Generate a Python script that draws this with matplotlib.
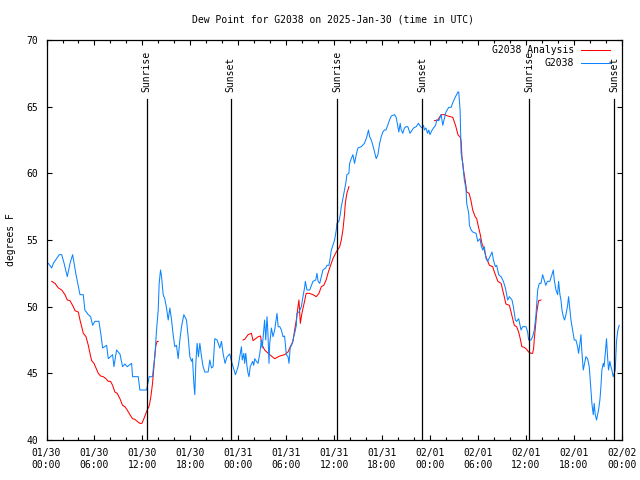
import matplotlib
matplotlib.use("Agg")
import matplotlib.pyplot as plt
import numpy as np

# hours since 2025-01-30 00:00 UTC, dew point in degF
obs_hours = [
    0.23, 0.65, 0.85, 1.6, 1.9, 2.2, 2.6, 2.94, 3.27, 3.69, 4.19, 4.6, 4.8, 5.23,
    5.52, 5.77, 6.06, 6.56, 6.81, 7.02, 7.52, 7.73, 8.27, 8.44, 8.77, 9.19, 9.52,
    9.81, 10.1, 10.65, 10.77, 11.48, 11.69, 12.52, 12.85, 13.27, 13.35, 13.56,
    13.77, 13.98, 14.1, 14.27, 14.4, 14.6, 14.8, 15.02, 15.23, 15.44, 15.65, 15.85,
    16.06, 16.27, 16.48, 16.69, 16.9, 17.19, 17.52, 17.73, 17.94, 18.15, 18.27,
    18.44, 18.56, 18.69, 18.85, 19.02, 19.19, 19.4, 19.6, 19.81, 20.23, 20.44,
    20.65, 20.85, 21.06, 21.35, 21.69, 21.9, 22.1, 22.35, 22.6, 22.94, 23.15,
    23.35, 23.65, 23.98, 24.19, 24.4, 24.5, 24.7, 24.8, 24.94, 25.1, 25.23, 25.35,
    25.5, 25.8, 25.94, 26.06, 26.27, 26.48, 26.7, 26.9, 27.0, 27.2, 27.3, 27.44,
    27.6, 27.7, 27.85, 27.94, 28.15, 28.35, 28.56, 28.85, 29.0, 29.2, 29.4, 29.6,
    29.8, 30.02, 30.23, 30.35, 30.5, 30.77, 30.94, 31.06, 31.27, 31.35, 31.6,
    31.9, 32.1, 32.3, 32.4, 32.6, 32.94, 33.35, 33.7, 33.85, 34.0, 34.2, 34.4,
    34.6, 34.94, 35.1, 35.35, 35.5, 35.65, 35.85, 36.06, 36.27, 36.35, 36.6,
    36.77, 36.9, 37.1, 37.3, 37.5, 37.6, 37.85, 37.94, 38.15, 38.35, 38.56, 38.77,
    38.98, 39.4, 39.8, 40.1, 40.3, 40.44, 40.65, 40.85, 41.06, 41.27, 41.48, 41.7,
    41.9, 42.1, 42.3, 42.5, 42.7, 42.94, 43.15, 43.56, 43.77, 43.98, 44.1, 44.27,
    44.4, 44.6, 44.8, 45.02, 45.23, 45.5, 45.77, 45.94, 46.27, 46.56, 46.77, 47.0,
    47.19, 47.3, 47.5, 47.7, 47.85, 48.0, 48.27, 48.44, 48.7, 48.85, 49.1, 49.4,
    49.6, 49.8, 50.0, 50.35, 50.65, 50.85, 51.2, 51.5, 51.6, 51.77, 51.9, 52.1,
    52.3, 52.5, 52.6, 52.85, 52.94, 53.15, 53.35, 53.77, 53.98, 54.27, 54.4, 54.6,
    54.8, 55.02, 55.23, 55.5, 55.77, 55.94, 56.19, 56.35, 56.6, 56.9, 57.19,
    57.44, 57.6, 57.73, 57.94, 58.27, 58.44, 58.69, 58.85, 59.1, 59.27, 59.4,
    59.6, 60.02, 60.23, 60.35, 60.65, 60.85, 61.06, 61.27, 61.48, 61.69, 61.9,
    62.1, 62.3, 62.5, 62.7, 63.0, 63.27, 63.44, 63.56, 63.77, 63.98, 64.1, 64.27,
    64.4, 64.52, 64.69, 64.85, 65.02, 65.23, 65.35, 65.52, 65.65, 65.85, 66.06,
    66.27, 66.48, 66.6, 66.77, 66.9, 67.0, 67.19, 67.35, 67.52, 67.73, 67.94,
    68.15, 68.27, 68.44, 68.56, 68.69, 68.85, 69.1, 69.27, 69.4, 69.52, 69.69,
    69.8, 70.02, 70.1, 70.23, 70.35, 70.52, 70.65, 70.77, 70.94, 71.06, 71.19,
    71.35, 71.52, 71.69,
]
obs_dewpt = [
    53.25, 52.9, 53.25, 53.9, 53.9, 53.25, 52.25, 53.25, 53.9, 52.4, 50.9, 50.9,
    49.75, 49.4, 49.25, 48.6, 48.9, 48.9, 47.9, 46.9, 47.1, 46.1, 46.4, 45.5,
    46.75, 46.45, 45.5, 45.7, 45.5, 45.75, 44.75, 44.75, 43.75, 43.75, 44.75,
    44.75, 45.25, 46.25, 48.25, 49.75, 51.75, 52.75, 52.25, 50.9, 50.6, 49.9,
    49.0, 49.9, 49.0, 47.9, 47.0, 47.1, 46.1, 47.5, 48.5, 49.4, 49.0, 47.75,
    46.25, 45.9, 46.1, 44.25, 43.4, 45.75, 47.25, 46.25, 47.25, 46.25, 45.5,
    45.1, 45.1, 46.0, 45.4, 45.5, 47.6, 47.5, 46.9, 47.4, 46.5, 45.75, 46.25,
    46.45, 45.9, 45.5, 44.9, 45.5, 46.25, 47.0, 46.0, 46.5, 45.75, 46.5, 45.5,
    45.0, 44.75, 45.5, 45.9, 45.6, 46.1, 45.9, 45.75, 46.5, 47.5, 46.9, 48.25,
    49.0, 47.5, 49.25, 48.25, 45.75, 47.25, 48.4, 47.75, 48.25, 49.5, 48.5, 48.5,
    48.25, 47.75, 47.8, 46.4, 46.25, 45.75, 46.9, 47.25, 47.75, 48.0, 48.6, 49.5,
    49.6, 50.0, 50.75, 51.4, 51.9, 51.25, 51.25, 51.9, 52.0, 52.5, 51.9, 51.75,
    52.25, 52.75, 52.9, 53.1, 53.1, 53.6, 54.25, 54.6, 55.0, 55.75, 56.25, 56.4,
    56.9, 57.5, 58.1, 58.75, 59.4, 59.9, 60.0, 60.75, 61.1, 61.4, 60.75, 61.4,
    61.9, 62.0, 62.25, 62.75, 63.25, 62.75, 62.5, 62.1, 61.6, 61.1, 61.4, 62.25,
    62.75, 63.1, 63.25, 63.25, 63.6, 64.0, 64.3, 64.4, 64.2, 63.5, 63.1, 63.75,
    63.25, 63.0, 63.4, 63.5, 63.5, 63.0, 63.25, 63.4, 63.5, 63.75, 63.55, 63.4,
    63.6, 63.25, 63.4, 63.0, 63.25, 62.9, 63.25, 63.4, 63.6, 64.0, 63.95, 64.4,
    63.6, 64.1, 64.6, 64.95, 64.95, 65.3, 65.75, 66.1, 66.1, 64.75, 61.5, 60.75,
    59.5, 58.9, 57.75, 57.0, 56.1, 55.75, 55.6, 55.5, 54.9, 55.1, 54.6, 54.25,
    54.5, 53.6, 53.4, 53.75, 54.1, 53.5, 53.0, 53.1, 52.4, 52.25, 51.9, 51.4,
    50.9, 50.5, 50.75, 50.5, 50.0, 49.0, 48.9, 49.1, 48.6, 48.25, 48.5, 48.5,
    48.1, 47.5, 47.5, 47.75, 48.25, 49.4, 51.25, 51.75, 51.75, 52.4, 52.0, 51.6,
    51.9, 51.9, 52.4, 52.75, 52.0, 51.25, 50.9, 51.9, 50.9, 50.5, 49.75, 49.25,
    49.0, 49.4, 50.1, 50.75, 49.75, 49.0, 48.25, 47.5, 47.5, 47.0, 46.5, 47.25,
    47.9, 46.75, 45.25, 45.75, 46.25, 46.1, 45.5, 43.75, 42.75, 41.9, 42.75,
    41.9, 41.5, 42.25, 43.0, 44.0, 45.25, 45.75, 45.5, 47.0, 47.6, 46.25, 45.25,
    45.9, 45.5, 45.25, 44.75, 45.0, 45.25, 47.4, 48.25, 48.6,
]

# analysis, three separate runs
ana_hours = [
    [0.65, 1.06, 1.48, 1.9, 2.31, 2.6, 2.94, 3.35, 3.56, 3.98, 4.19, 4.4, 4.6,
     4.94, 5.23, 5.44, 5.65, 5.94, 6.19, 6.48, 6.77, 7.1, 7.44, 7.73, 8.02, 8.27,
     8.56, 8.85, 9.19, 9.52, 9.81, 10.1, 10.44, 10.77, 11.06, 11.35, 11.69, 11.94,
     12.19, 12.44, 12.6, 12.85, 13.06, 13.27, 13.44, 13.56, 13.69, 13.85, 13.98],
    [24.6, 24.8, 25.23, 25.65, 25.85, 26.5, 26.8, 26.9, 27.3, 27.94, 28.56, 29.2,
     29.8, 30.23, 30.44, 30.85, 31.06, 31.27, 31.48, 31.6, 31.77, 32.0, 32.3,
     32.5, 32.9, 33.35, 33.77, 34.1, 34.4, 34.7, 35.0, 35.23, 35.5, 35.85, 36.27,
     36.7, 36.9, 37.1, 37.3, 37.4, 37.6, 37.85],
    [48.56, 48.98, 49.4, 49.8, 50.23, 50.85, 51.2, 51.5, 51.8, 51.9, 52.0, 52.2,
     52.4, 52.6, 52.9, 53.15, 53.35, 53.65, 53.85, 54.1, 54.3, 54.5, 54.8, 55.0,
     55.44, 55.85, 56.06, 56.5, 56.9, 57.1, 57.3, 57.5, 57.94, 58.15, 58.35,
     58.56, 58.85, 59.1, 59.3, 59.5, 59.8, 60.1, 60.35, 60.65, 60.85, 60.98,
     61.06, 61.19, 61.35, 61.5, 61.6, 61.9],
]
ana_dewpt = [
    [51.9, 51.75, 51.4, 51.25, 50.9, 50.5, 50.45, 50.0, 49.7, 49.6, 49.0, 48.5,
     48.0, 47.75, 47.1, 46.5, 45.95, 45.75, 45.4, 45.0, 44.8, 44.75, 44.6, 44.4,
     44.4, 44.1, 43.6, 43.5, 43.1, 42.6, 42.5, 42.25, 41.9, 41.6, 41.55, 41.4,
     41.25, 41.25, 41.6, 42.0, 42.25, 42.55, 43.25, 44.25, 45.45, 46.4, 47.1,
     47.4, 47.4],
    [47.5, 47.55, 47.9, 48.0, 47.45, 47.75, 47.8, 47.25, 46.75, 46.4, 46.1, 46.3,
     46.4, 46.6, 46.9, 47.4, 48.25, 49.0, 50.0, 50.5, 48.75, 49.6, 50.4, 51.0,
     51.0, 50.9, 50.75, 51.0, 51.5, 51.6, 52.0, 52.5, 53.0, 53.6, 54.1, 54.5,
     55.0, 55.75, 56.9, 57.75, 58.5, 59.0],
    [63.95, 64.0, 64.4, 64.4, 64.3, 64.2, 63.6, 62.9, 62.7, 62.4, 61.25, 60.25,
     59.5, 58.6, 58.5, 57.9, 57.25, 56.75, 56.6, 55.9, 55.4, 54.75, 54.25, 53.75,
     53.1, 53.0, 52.6, 51.9, 51.75, 51.25, 50.75, 50.2, 50.1, 49.6, 49.1, 48.6,
     48.5, 48.1, 47.6, 47.0, 46.95, 46.8, 46.6, 46.5, 46.5, 46.9, 47.6, 48.4,
     49.5, 50.1, 50.45, 50.5],
]

sun_hours = [12.54, 23.04, 36.41, 47.04, 60.41, 71.04]
sun_labels = ["Sunrise", "Sunset", "Sunrise", "Sunset", "Sunrise", "Sunset"]

tick_hours = list(range(0, 73, 6))
tick_labels = ["01/30\n00:00", "01/30\n06:00", "01/30\n12:00", "01/30\n18:00",
               "01/31\n00:00", "01/31\n06:00", "01/31\n12:00", "01/31\n18:00",
               "02/01\n00:00", "02/01\n06:00", "02/01\n12:00", "02/01\n18:00",
               "02/02\n00:00"]

plt.rcParams['font.family'] = ['DejaVu Sans Mono']
plt.rcParams['font.size'] = 7

fig = plt.figure(figsize=(6.4, 4.8), dpi=100)
ax = fig.add_axes([0.0727, 0.0833, 0.8987, 0.8334])

RED = '#ff0000'
BLUE = '#0a84ff'
LW = 0.75

for h, v in zip(ana_hours, ana_dewpt):
    ax.plot(h, v, color=RED, lw=LW)
ax.plot(obs_hours, obs_dewpt, color=BLUE, lw=LW)

# sunrise / sunset markers
for h, lab in zip(sun_hours, sun_labels):
    ax.plot([h, h], [40, 65.55], color='black', lw=0.9)
    ax.text(h, 66.1, lab, rotation=90, ha='center', va='bottom')

ax.set_xlim(0, 72)
ax.set_ylim(40, 70)
ax.set_xticks(tick_hours)
ax.set_xticklabels(tick_labels)
ax.set_xticks(np.arange(0, 73, 2), minor=True)
ax.set_yticks(range(40, 71, 5))
ax.tick_params(which='both', direction='in', top=True, right=True)
ax.tick_params(which='major', length=3.3, width=0.8, pad=6)
ax.tick_params(which='minor', length=2.0, width=0.8)
for s in ax.spines.values():
    s.set_linewidth(0.9)

# gnuplot-style key, right aligned
key = [("G2038 Analysis", RED, 0.975), ("G2038", BLUE, 0.943)]
for lab, col, y in key:
    ax.text(0.917, y, lab, transform=ax.transAxes, ha='right', va='center')
    ax.plot([0.930, 0.980], [y, y], color=col, lw=LW, transform=ax.transAxes)

fig.text(0.52, 0.96, "Dew Point for G2038 on 2025-Jan-30 (time in UTC)",
         ha='center', va='center')
fig.text(0.017, 0.5, "degrees F", rotation=90, ha='center', va='center')

fig.savefig('out.png', dpi=100)
